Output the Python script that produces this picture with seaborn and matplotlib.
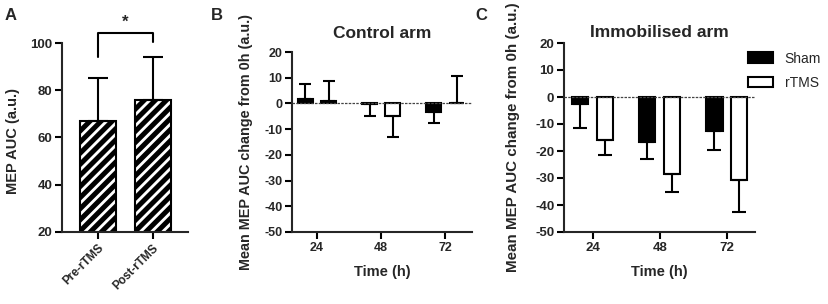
import matplotlib
matplotlib.use("Agg")
import matplotlib.pyplot as plt
import seaborn as sns
import pandas as pd
import numpy as np

# ---------------- data ----------------
a_labels = ["Pre-rTMS", "Post-rTMS"]
a_means = [67.0, 76.0]
a_sd = [18.0, 18.0]

times = ["24", "48", "72"]
groups = ["Sham", "rTMS"]

ctrl_sham = [1.7, -0.3, -3.3]
ctrl_sham_sd = [5.8, 4.7, 4.2]
ctrl_rtms = [0.9, -4.9, 0.3]
ctrl_rtms_sd = [7.9, 8.2, 10.2]

immo_sham = [-2.5, -16.5, -12.5]
immo_sham_sd = [9.0, 6.5, 7.3]
immo_rtms = [-16.0, -28.5, -30.7]
immo_rtms_sd = [5.3, 6.5, 11.8]

# ---------------- style ----------------
sns.set_style("ticks")
plt.rcParams["font.family"] = ["Liberation Sans", "DejaVu Sans"]
plt.rcParams["axes.unicode_minus"] = False
plt.rcParams["hatch.linewidth"] = 3.6
plt.rcParams["axes.linewidth"] = 1.5

fig = plt.figure(figsize=(8.29, 3.04), dpi=100)
W, H = 829.0, 304.0


def axes_px(left, right, top, bottom):
    return fig.add_axes([left / W, 1 - bottom / H, (right - left) / W, (bottom - top) / H])


def style_axes(ax, size):
    sns.despine(ax=ax)
    ax.tick_params(axis="both", width=1.5, length=5, direction="out",
                   labelsize=size, pad=2, color="black")
    for lab in ax.get_yticklabels() + ax.get_xticklabels():
        lab.set_fontweight("bold")


# ---------------- Panel A ----------------
axA = axes_px(62, 188, 43, 232)
dfA = pd.DataFrame({"cond": a_labels, "val": a_means})
sns.barplot(data=dfA, x="cond", y="val", ax=axA, color="white", width=0.65,
            edgecolor="black", linewidth=1.5, hatch="///", errorbar=None)
for p, sd in zip(axA.patches, a_sd):
    xc = p.get_x() + p.get_width() / 2
    axA.errorbar(xc, p.get_height(), yerr=[[0], [sd]], color="black", lw=1.5,
                 capsize=7, capthick=1.5, zorder=1)
axA.set_ylim(20, 100)
axA.set_yticks([20, 40, 60, 80, 100])
axA.set_xlim(-0.65, 1.64)
axA.set_xlabel("")
axA.set_ylabel("MEP AUC (a.u.)", fontsize=10.5, fontweight="bold", va="center")
axA.yaxis.set_label_coords(-0.389, 0.48)
style_axes(axA, 9.5)
axA.set_xticks([0, 1])
axA.set_xticklabels(a_labels, rotation=45, ha="right", rotation_mode="anchor",
                    fontweight="bold", fontsize=8.5)
# significance bracket
axA.plot([0, 0, 1, 1], [94.2, 104.1, 104.1, 100.3], color="black", lw=1.5, clip_on=False)
axA.text(0.5, 105.5, "*", ha="center", va="bottom", fontsize=12, fontweight="bold")


def grouped_panel(ax, sham, sham_sd, rtms, rtms_sd, width, gap, capsize, size):
    df = pd.DataFrame({
        "time": times * 2,
        "group": [groups[0]] * 3 + [groups[1]] * 3,
        "val": list(sham) + list(rtms),
    })
    sns.barplot(data=df, x="time", y="val", hue="group", hue_order=groups,
                palette={"Sham": "black", "rTMS": "white"}, edgecolor="black",
                linewidth=1.5, width=width, gap=gap, errorbar=None, ax=ax)
    sds = [sham_sd, rtms_sd]
    for cont, sd_list in zip(ax.containers, sds):
        for p, sd in zip(cont.patches, sd_list):
            xc = p.get_x() + p.get_width() / 2
            v = p.get_height() if p.get_y() == 0 else p.get_y()
            if v >= 0:
                yerr = [[0], [sd]]
            else:
                yerr = [[sd], [0]]
            ax.errorbar(xc, v, yerr=yerr, color="black", lw=1.5, capsize=capsize,
                        capthick=1.5, zorder=1)
    ax.axhline(0, color="#444444", lw=0.9, ls=(0, (2, 1)), zorder=3)
    ax.set_ylim(-50, 20)
    ax.set_yticks(np.arange(-50, 21, 10))
    ax.set_xlabel("Time (h)", fontsize=10.5, fontweight="bold", labelpad=8)
    style_axes(ax, size)


# ---------------- Panel B ----------------
axB = axes_px(292, 472, 52, 232)
grouped_panel(axB, ctrl_sham, ctrl_sham_sd, ctrl_rtms, ctrl_rtms_sd, 0.72, 0.35, 4.5, 9)
axB.set_xlim(-0.39, 2.42)
axB.get_legend().remove()
axB.set_ylabel("Mean MEP AUC change from 0h (a.u.)", fontsize=10.4, fontweight="bold", va="center")
axB.yaxis.set_label_coords(-0.253, 0.5)
axB.set_title("Control arm", fontsize=12.5, fontweight="bold", pad=10)

# ---------------- Panel C ----------------
axC = axes_px(564, 755, 43, 232)
grouped_panel(axC, immo_sham, immo_sham_sd, immo_rtms, immo_rtms_sd, 0.74, 0.35, 5, 9.5)
axC.set_xlim(-0.43, 2.42)
axC.set_ylabel("Mean MEP AUC change from 0h (a.u.)", fontsize=10.9, fontweight="bold", va="center")
axC.yaxis.set_label_coords(-0.267, 0.5)
axC.set_title("Immobilised arm", fontsize=12.6, fontweight="bold", pad=4)
sns.move_legend(axC, "upper left", bbox_to_anchor=(0.963, 0.955), frameon=False,
                title=None, fontsize=10, handlelength=1.8, handleheight=0.8,
                handletextpad=0.85, labelspacing=0.75, borderaxespad=0, borderpad=0)

# ---------------- panel letters ----------------
fig.text(5 / W, 1 - 15 / H, "A", fontsize=12, fontweight="bold", va="center", ha="left")
fig.text(211 / W, 1 - 15 / H, "B", fontsize=12, fontweight="bold", va="center", ha="left")
fig.text(475 / W, 1 - 15 / H, "C", fontsize=12, fontweight="bold", va="center", ha="left")

fig.savefig("out.png", dpi=100)
